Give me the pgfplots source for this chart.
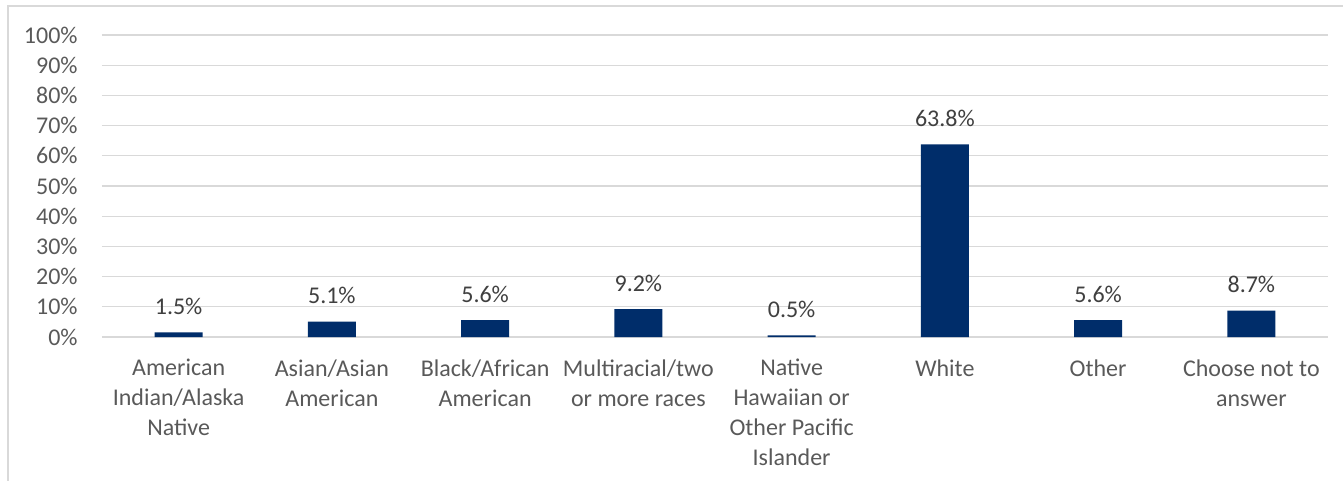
\documentclass[border=0pt]{standalone}
\usepackage{fontspec}
\setmainfont{Carlito}
\usepackage{pgfplots}
\pgfplotsset{compat=1.18}
\definecolor{barblue}{RGB}{0,45,106}
\definecolor{gridgray}{RGB}{217,217,217}
\definecolor{txtgray}{RGB}{89,89,89}
\definecolor{lblgray}{RGB}{64,64,64}
\begin{document}
\fontsize{12}{15}\selectfont
\begin{tikzpicture}
\path[use as bounding box] (-51pt,-72pt) rectangle (620.5pt,168.5pt);
\begin{axis}[
  scale only axis, width=613pt, height=151pt,
  xmin=-0.5, xmax=7.5, ymin=0, ymax=100,
  axis line style={draw=none},
  ytick={0,10,...,100},
  yticklabels={0\%,10\%,20\%,30\%,40\%,50\%,60\%,70\%,80\%,90\%,100\%},
  ymajorgrids, grid style={gridgray, line width=0.6pt},
  major tick length=0pt,
  xtick={0,...,7},
  xticklabels={American\\Indian/Alaska\\Native, Asian/Asian\\American, Black/African\\American, Multiracial/two\\or more races, Native\\Hawaiian or\\Other Pacific\\Islander, White, Other, Choose not to\\answer},
  xticklabel style={align=center, text=txtgray, font=\fontsize{12}{15}\selectfont, anchor=north, yshift=-7pt},
  yticklabel style={text=txtgray, font=\fontsize{12}{15}\selectfont, anchor=east, xshift=-8pt},
  ybar, bar width=24pt,
  nodes near coords, point meta=explicit symbolic,
  every node near coord/.append style={text=lblgray, font=\fontsize{12}{15}\selectfont, anchor=center, yshift=13pt},
  clip=false,
]
\addplot[draw=none, fill=barblue] coordinates {
  (0,1.5) [1.5\%]
  (1,5.1) [5.1\%]
  (2,5.6) [5.6\%]
  (3,9.2) [9.2\%]
  (4,0.5) [0.5\%]
  (5,63.8) [63.8\%]
  (6,5.6) [5.6\%]
  (7,8.7) [8.7\%]
};
\end{axis}
\draw[gridgray, line width=0.6pt] (-47pt,-90pt) -- (-47pt,165.5pt) -- (700pt,165.5pt);
\end{tikzpicture}
\end{document}
